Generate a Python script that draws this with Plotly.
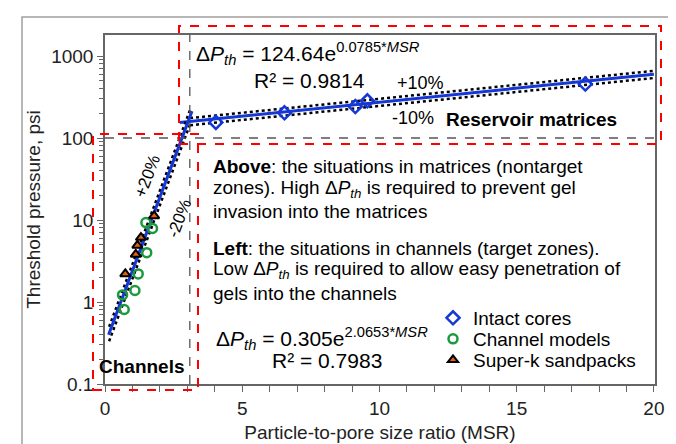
import numpy as np
import plotly.graph_objects as go

# ---------------- data ----------------
intact_msr = [4.04, 6.54, 9.12, 9.56, 17.5]
intact_dp = [155, 203, 242, 284, 455]

channel_msr = [1.49, 1.73, 1.52, 1.21, 1.09, 0.64, 0.70]
channel_dp = [9.3, 7.9, 4.0, 2.2, 1.38, 1.22, 0.81]

superk_msr = [1.79, 1.31, 1.18, 1.12, 0.74]
superk_dp = [11.2, 6.1, 4.9, 3.8, 2.2]

# fitted trend equations shown in the chart: dP = a * exp(b * MSR)
matrix_fit = {"a": 124.64, "b": 0.0785, "x0": 2.72, "x1": 20.0,
              "band": 0.10, "bx0": 3.1, "bx1": 20.0}
channel_fit = {"a": 0.305, "b": 2.0653, "x0": 0.13, "x1": 3.17,
               "band": 0.20, "bx0": 0.15, "bx1": 3.1}

y_tickvals = [0.1, 1, 10, 100, 1000]
y_ticktext = ["0.1", "1", "10", "100", "1000"]
x_tickvals = [0, 5, 10, 15, 20]

FONT = "Arial, 'Liberation Sans', sans-serif"
BLUE = "#1537d6"
GREEN = "#1a9a3c"

# plot area in pixels (for placing annotations / boxes in paper coords)
L, R, T, B = 97, 647, 27, 376
W, H = R - L, B - T
DECADE = 82.0


def fx(px):
    return (px - L) / W


def fy(py):
    return (B - py) / H


fig = go.Figure()


def add_fit(fit):
    xs = np.linspace(fit["x0"], fit["x1"], 60)
    ys = fit["a"] * np.exp(fit["b"] * xs)
    xb = np.linspace(fit["bx0"], fit["bx1"], 60)
    yb = fit["a"] * np.exp(fit["b"] * xb)
    for f in (1 + fit["band"], 1 - fit["band"]):
        fig.add_trace(go.Scatter(x=xb, y=yb * f, mode="lines",
                                 line=dict(color="black", width=2.5, dash="dot"),
                                 showlegend=False, hoverinfo="skip"))
    fig.add_trace(go.Scatter(x=xs, y=ys, mode="lines",
                             line=dict(color=BLUE, width=3),
                             showlegend=False, hoverinfo="skip"))


add_fit(matrix_fit)
add_fit(channel_fit)

fig.add_trace(go.Scatter(x=intact_msr, y=intact_dp, mode="markers", name="Intact cores",
                         legend="legend",
                         marker=dict(symbol="diamond-open", size=10, color=BLUE,
                                     line=dict(width=2.5, color=BLUE))))
fig.add_trace(go.Scatter(x=channel_msr, y=channel_dp, mode="markers", name="Channel models",
                         legend="legend2",
                         marker=dict(symbol="circle-open", size=9, color=GREEN,
                                     line=dict(width=2.5, color=GREEN))))
fig.add_trace(go.Scatter(x=superk_msr, y=superk_dp, mode="markers", name="Super-k sandpacks",
                         legend="legend3",
                         marker=dict(symbol="triangle-up", size=9, color="#e8600c",
                                     line=dict(width=2, color="black"))))

shapes = []
# gray dashed guide lines
shapes.append(dict(type="line", xref="x", yref="y", x0=0, x1=20.04, y0=100, y1=100,
                   line=dict(color="#555555", width=1.3, dash="dash")))
shapes.append(dict(type="line", xref="x", yref="paper", x0=3.09, x1=3.09, y0=0, y1=1,
                   line=dict(color="#555555", width=1.3, dash="dash")))
# red dashed boxes
shapes.append(dict(type="rect", xref="paper", yref="paper",
                   x0=fx(171), x1=fx(653), y0=fy(136), y1=fy(18),
                   line=dict(color="#ff0000", width=2, dash="dash")))
shapes.append(dict(type="rect", xref="paper", yref="paper",
                   x0=fx(85), x1=fx(190), y0=fy(382), y1=fy(126),
                   line=dict(color="#ff0000", width=2, dash="dash")))
# outer frame
shapes.append(dict(type="rect", xref="paper", yref="paper",
                   x0=fx(14), x1=fx(670), y0=fy(450), y1=fy(9),
                   line=dict(color="#a0a0a0", width=1.5)))

ann = []


def text(px, py, s, size=19, bold=False, anchor="left", angle=0):
    if bold:
        s = "<b>" + s + "</b>"
    ann.append(dict(x=fx(px), y=fy(py), xref="paper", yref="paper", text=s,
                    showarrow=False, xanchor=anchor, yanchor="middle", textangle=angle,
                    font=dict(family=FONT, size=size, color="black")))


DP = "Δ<i>P</i><sub><i>th</i></sub>"
text(186, 45, DP + " = 124.64e<sup>0.0785*<i>MSR</i></sup>", size=21)
text(244, 73, "R² = 0.9814", size=21)
text(387, 75, "+10%", size=18)
text(382, 110, "-10%", size=18)
text(436, 112, "Reservoir matrices", size=19, bold=True)

text(203, 158, "<b>Above</b>: the situations in matrices (nontarget", size=19)
text(203, 181, "zones). High " + DP + " is required to prevent gel", size=19)
text(203, 203, "invasion into the matrices", size=19)
text(203, 240, "<b>Left</b>: the situations in channels (target zones).", size=19)
text(203, 262, "Low " + DP + " is required to allow easy penetration of", size=19)
text(203, 285, "gels into the channels", size=19)

text(206, 330, DP + " = 0.305e<sup>2.0653*<i>MSR</i></sup>", size=21)
text(262, 352, "R² = 0.7983", size=21)
text(89, 358, "Channels", size=19, bold=True)

text(139, 168, "+20%", size=17, anchor="center", angle=-69)
text(171, 210, "-20%", size=17, anchor="center", angle=-69)


def leg(py):
    return dict(x=fx(433), y=fy(py), xanchor="left", yanchor="middle",
                bgcolor="rgba(0,0,0,0)", borderwidth=0, indentation=-8,
                font=dict(family=FONT, size=19, color="black"), itemwidth=30)


fig.update_layout(
    width=676, height=444,
    margin=dict(l=L, r=676 - R, t=T, b=444 - B, pad=0),
    paper_bgcolor="white", plot_bgcolor="white",
    font=dict(family=FONT, size=19, color="#222222"),
    shapes=shapes, annotations=ann,
    showlegend=True,
    legend=leg(310), legend2=leg(331), legend3=leg(352),
)

fig.update_xaxes(range=[0, 20.04], tickvals=x_tickvals, ticks="outside", ticklen=6,
                 tickcolor="#666666", tickwidth=1.3,
                 minor=dict(dtick=1, ticks="outside", ticklen=6, tickcolor="#666666", tickwidth=1.3),
                 showline=True, linecolor="#666666", linewidth=1.5, mirror=True,
                 showgrid=False, zeroline=False,
                 tickfont=dict(family=FONT, size=19, color="#222222"),
                 title=dict(text="Particle-to-pore size ratio (MSR)", standoff=8,
                            font=dict(family=FONT, size=19, color="#222222")))
fig.update_yaxes(type="log", range=[-1, -1 + (B - T) / DECADE],
                 tickvals=y_tickvals, ticktext=y_ticktext, ticks="outside", ticklen=6,
                 tickcolor="#666666", tickwidth=1.3,
                 minor=dict(dtick="D1", ticks="outside", ticklen=4, tickcolor="#666666", tickwidth=1),
                 showline=True, linecolor="#666666", linewidth=1.5, mirror=True,
                 showgrid=False, zeroline=False,
                 tickfont=dict(family=FONT, size=19, color="#222222"),
                 title=dict(text="Threshold pressure, psi", standoff=6,
                            font=dict(family=FONT, size=19, color="#222222")))

fig.write_html("out.html")
